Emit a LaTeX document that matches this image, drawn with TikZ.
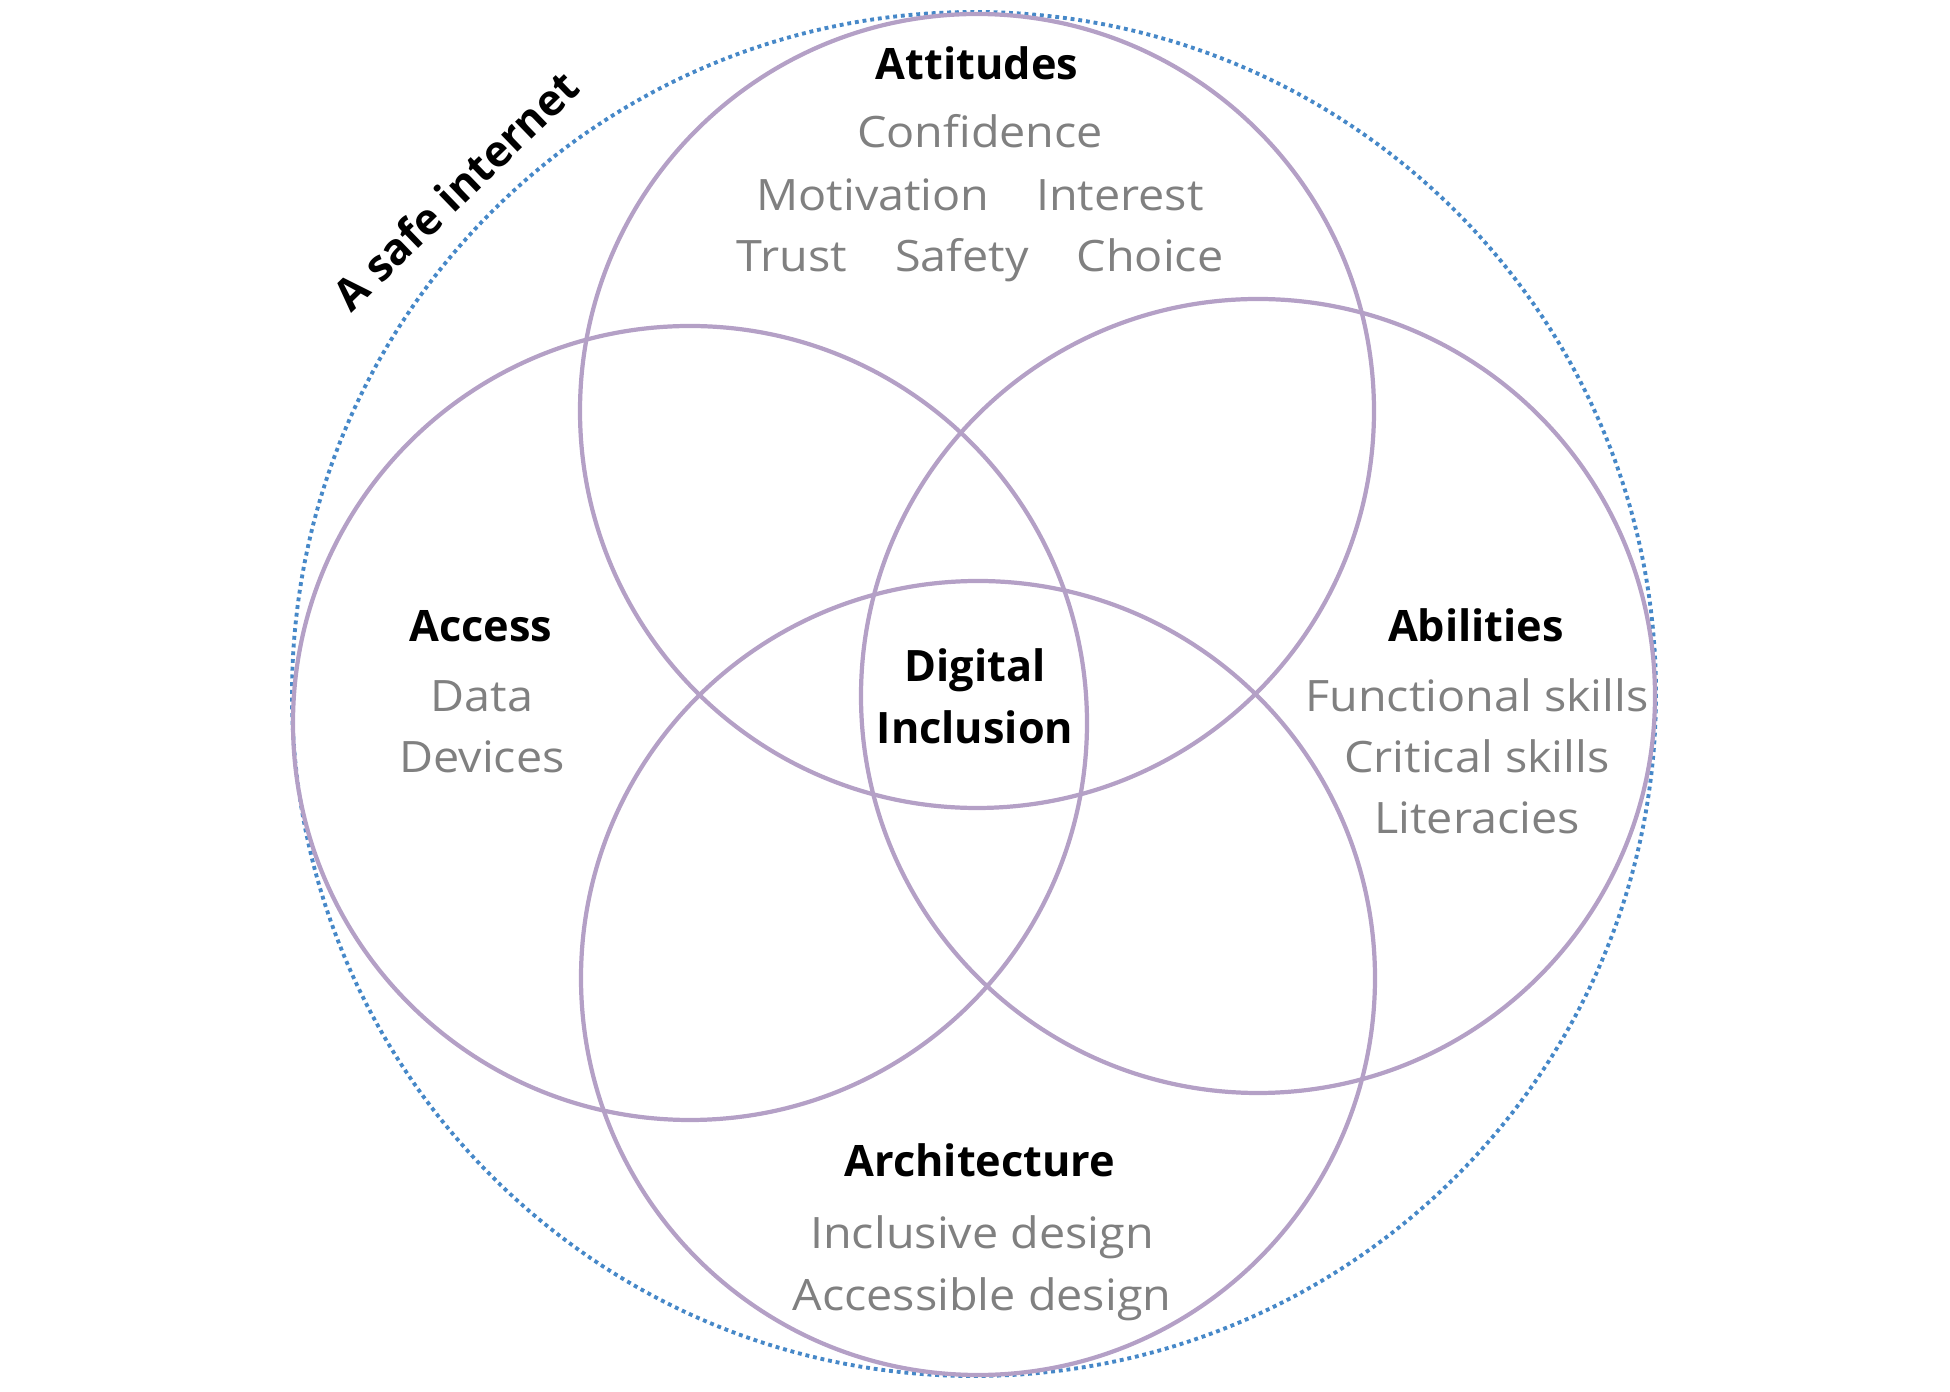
\documentclass[tikz,border=0pt]{standalone}
\usepackage{fontspec}
\setmainfont{Open Sans}
\newfontfamily\itemfont[FakeStretch=1.08]{Open Sans}
\definecolor{ringcol}{RGB}{180,160,198}
\definecolor{webcol}{RGB}{70,136,200}
\definecolor{itemcol}{RGB}{128,128,128}

\begin{document}
\begin{tikzpicture}[x=0.01cm, y=-0.01cm,
ring/.style={draw=ringcol, line width=1.2pt},
web/.style={draw=webcol, line width=1.1pt, dash pattern=on 1.1pt off 1.1pt},
head/.style={font=\fontsize{12.3}{14}\selectfont\bfseries, anchor=base, inner sep=0pt},
item/.style={font=\itemfont\fontsize{12.3}{14}\selectfont, text=itemcol, anchor=base, inner sep=0pt}]

\useasboundingbox (0, 0) rectangle (1950, 1392);

%\draw[step=100, color=gray!20] (0, 0) grid (1950, 1392);

\draw[web] (974, 694) circle[radius=682]; %safe internet
\draw[ring] (977, 411) circle[radius=397]; %attitudes
\draw[ring] (690, 723) circle[radius=397]; %access
\draw[ring] (1258, 696) circle[radius=397]; %abilities
\draw[ring] (978, 978) circle[radius=397]; %architecture

\node[head, rotate=44] (safe) at (467, 202) {A safe internet};

\node[head] (att) at (977, 80) {Attitudes};
\node[item] (conf) at (980, 148) {Confidence};
\node[item] (motiv) at (873, 211) {Motivation};
\node[item] (inter) at (1120, 211) {Interest};
\node[item] (trust) at (792, 272) {Trust};
\node[item] (safety) at (962, 272) {Safety};
\node[item] (choice) at (1150, 272) {Choice};

\node[head] (acc) at (481, 642) {Access};
\node[item] (data) at (482, 712) {Data};
\node[item] (dev) at (482, 773) {Devices};

\node[head] (abil) at (1476, 642) {Abilities};
\node[item] (func) at (1477, 712) {Functional skills};
\node[item] (crit) at (1477, 773) {Critical skills};
\node[item] (lit) at (1477, 834) {Literacies};

\node[head] (dig) at (975, 682) {Digital};
\node[head] (incl) at (975, 744) {Inclusion};

\node[head] (arch) at (980, 1177) {Architecture};
\node[item] (incdes) at (982, 1249) {Inclusive design};
\node[item] (accdes) at (982, 1311) {Accessible design};

\end{tikzpicture}
\end{document}
